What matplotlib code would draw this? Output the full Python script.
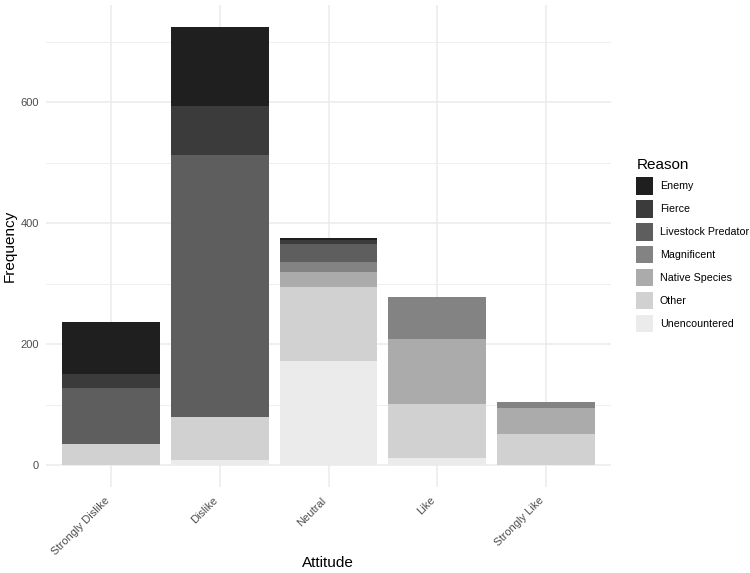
import matplotlib
matplotlib.use('Agg')
import matplotlib.pyplot as plt
import matplotlib.patches as mpatches
import matplotlib.transforms as mtransforms
import numpy as np

plt.rcParams['font.family'] = ['Liberation Sans', 'DejaVu Sans']

# Data
attitudes = ['Strongly Dislike', 'Dislike', 'Neutral', 'Like', 'Strongly Like']
reasons = ['Enemy', 'Fierce', 'Livestock Predator', 'Magnificent',
           'Native Species', 'Other', 'Unencountered']
enemy = [86, 131, 3, 0, 0]
fierce = [24, 81, 7, 0, 0]
livestock = [92, 432, 30, 0, 0]
magnificent = [0, 0, 17, 69, 10]
native = [0, 0, 25, 108, 44]
other = [35, 72, 122, 90, 51]
unencountered = [0, 8, 172, 11, 0]

colors = ['#1f1f1f', '#3b3b3b', '#5e5e5e', '#838383', '#ababab', '#d1d1d1', '#ebebeb']

fig = plt.figure(figsize=(7.5, 5.73), dpi=100)
ax = fig.add_axes([46/750, 1 - 487/573, (611 - 46)/750, (487 - 5)/573])

x = np.arange(len(attitudes))
# stack from the bottom: Unencountered first
stack = [unencountered, other, native, magnificent, livestock, fierce, enemy]
stack_colors = colors[::-1]
bottom = np.zeros(len(attitudes))
for vals, c in zip(stack, stack_colors):
    ax.bar(x, vals, 0.9, bottom=bottom, color=c, edgecolor='none', zorder=2)
    bottom += np.array(vals)

ax.set_xlim(-0.6, 4.6)
ax.set_ylim(-36.2, 760.8)
ax.set_yticks([0, 200, 400, 600])
ax.set_yticks([100, 300, 500, 700], minor=True)
ax.set_xticks(x)
ax.set_xticklabels(attitudes, rotation=45, ha='right', va='top', rotation_mode='anchor')
ax.grid(True, which='major', color='#ebebeb', linewidth=1.1, zorder=0)
ax.grid(True, which='minor', axis='y', color='#ededed', linewidth=0.6, zorder=0)
ax.set_axisbelow(True)
for s in ax.spines.values():
    s.set_visible(False)
ax.tick_params(axis='both', which='both', length=0, labelsize=8, labelcolor='#4d4d4d')
ax.tick_params(axis='x', pad=6)
ax.tick_params(axis='y', pad=5)

# nudge the rotated labels left so they end just before the tick
shift = mtransforms.ScaledTranslation(-0.07, 0, fig.dpi_scale_trans)
for lab in ax.get_xticklabels():
    lab.set_transform(lab.get_transform() + shift)

fig.text(10/750, 1 - 246/573, 'Frequency', rotation=90, ha='center', va='center', fontsize=11)
fig.text(328/750, 1 - 563/573, 'Attitude', ha='center', va='center', fontsize=11)

handles = [mpatches.Patch(facecolor=c, edgecolor='none', label=r) for r, c in zip(reasons, colors)]
leg = fig.legend(handles=handles, title='Reason', loc='center left',
                 bbox_to_anchor=(631/750, 1 - 245/573), frameon=False,
                 fontsize=7.7, title_fontsize=11, handlelength=1.6, handleheight=2.07,
                 labelspacing=0.56, handletextpad=0.6, borderpad=0, alignment='left')

fig.savefig('out.png', dpi=100)
